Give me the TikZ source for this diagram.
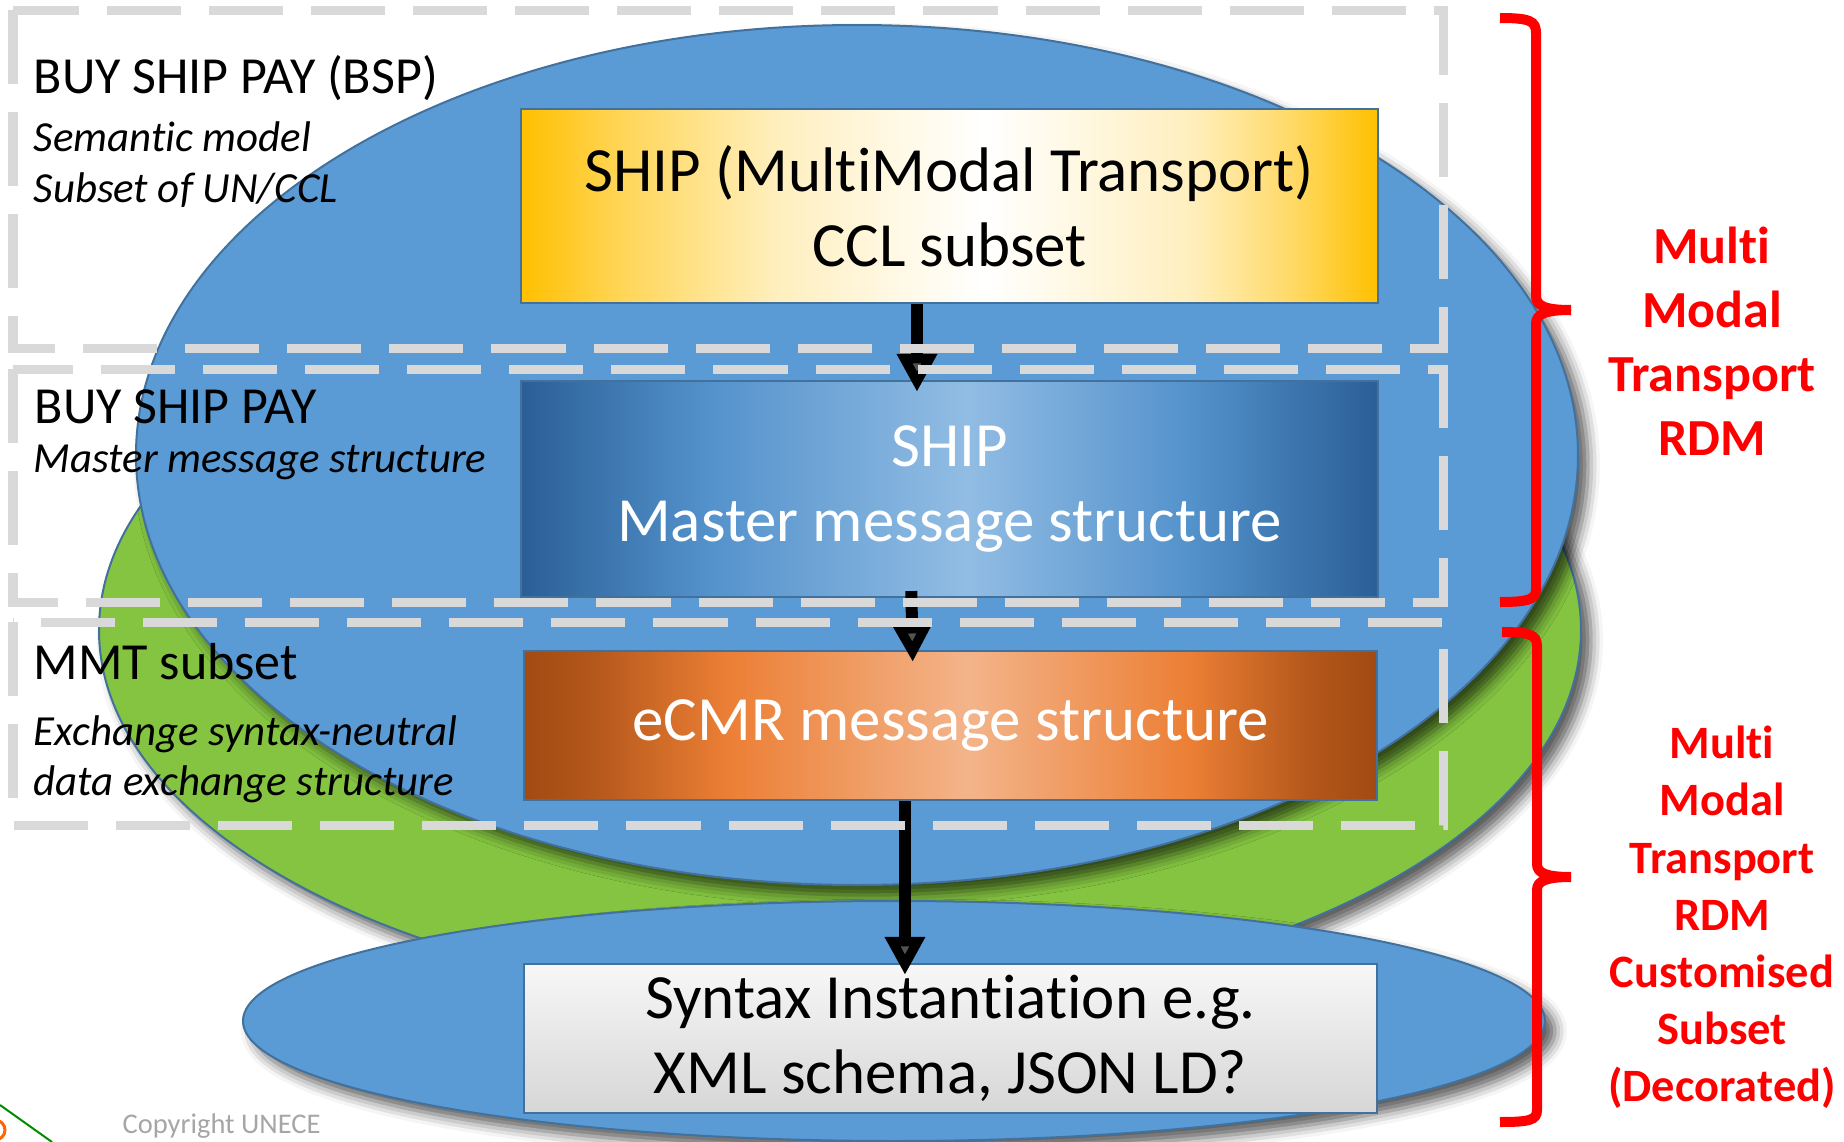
\documentclass[tikz,border=0pt]{standalone}
\usepackage{fontspec}
\setmainfont{Carlito}[Ligatures=NoCommon]
\usetikzlibrary{arrows.meta,shadows.blur}

\definecolor{ovalblue}{HTML}{5B9BD5}
\definecolor{ovalline}{HTML}{41719C}
\definecolor{ovalgreen}{HTML}{84C441}
\definecolor{dashgray}{HTML}{D9D9D9}
\definecolor{gold}{HTML}{FFC000}
\definecolor{deepblue}{HTML}{2A5F96}
\definecolor{paleblue}{HTML}{A9CBEA}
\definecolor{rust}{HTML}{A14A12}
\definecolor{tangerine}{HTML}{EC7F35}
\definecolor{peach}{HTML}{F3B48A}

% fills of the three coloured boxes (25bp = left edge, 75bp = right edge)
\pgfdeclarehorizontalshading{goldfade}{100bp}{color(0bp)=(gold); color(25bp)=(gold); color(31bp)=(gold!65!white); color(40bp)=(gold!25!white); color(52bp)=(white); color(64bp)=(gold!25!white); color(70bp)=(gold!60!white); color(75bp)=(gold); color(100bp)=(gold)}
\pgfdeclarehorizontalshading{bluefade}{100bp}{color(0bp)=(deepblue); color(25bp)=(deepblue); color(36bp)=(ovalblue!85!deepblue); color(51bp)=(paleblue!70!ovalblue); color(64bp)=(ovalblue!85!deepblue); color(75bp)=(deepblue); color(100bp)=(deepblue)}
\pgfdeclarehorizontalshading{rustfade}{100bp}{color(0bp)=(rust); color(25bp)=(rust); color(29bp)=(rust!75!tangerine); color(37bp)=(tangerine); color(51bp)=(peach); color(64bp)=(tangerine); color(71bp)=(rust!75!tangerine); color(75bp)=(rust); color(100bp)=(rust)}

\begin{document}
\begin{tikzpicture}[x=0.01cm,y=-0.01cm]
\tikzstyle{every node} = [inner sep=0pt]
\tikzstyle{oval} = [fill=ovalblue, draw=ovalline, line width=0.02cm, blur shadow={shadow xshift=0.1cm, shadow yshift=-0.1cm, shadow blur radius=0.12cm, shadow opacity=65}]
\tikzstyle{block} = [rectangle, draw=ovalline, line width=0.02cm, align=center, font=\fontsize{17.9}{21.3}\selectfont]
\tikzstyle{flow} = [line width=0.12cm, -{Triangle[width=0.38cm,length=0.38cm]}, shorten >=-0.12cm]
\tikzstyle{layerbox} = [draw=dashgray, line width=0.09cm, dash pattern=on 0.74cm off 0.28cm]
\tikzstyle{layerhead} = [anchor=base west, font=\fontsize{14.8}{18}\selectfont]
\tikzstyle{layernote} = [anchor=base west, font=\fontsize{12.2}{15}\selectfont\itshape]
\tikzstyle{redbrace} = [red, line width=0.1cm]
\tikzstyle{rdm} = [anchor=base, text=red, font=\fontsize{14.8}{18}\selectfont\bfseries]
\tikzstyle{rdmsub} = [anchor=base, text=red, font=\fontsize{13.2}{16}\selectfont\bfseries]

\useasboundingbox (0,0) rectangle (1844,1142);

% ovals
\filldraw[oval, fill=ovalgreen] (840,630) ellipse [x radius=741, y radius=374];
\filldraw[oval] (857,455) ellipse [x radius=721, y radius=430];
\filldraw[oval] (894,1021) ellipse [x radius=651, y radius=120];

% boxes
\node[block, minimum width=8.56cm, minimum height=1.94cm, shade, shading=goldfade] (ship) at (949.5,206) {SHIP (MultiModal Transport)\\CCL subset};
\node[block, minimum width=8.56cm, minimum height=2.16cm, shade, shading=bluefade, text=white] (master) at (949.5,489) {SHIP\\Master message structure};
\node[block, minimum width=8.53cm, minimum height=1.49cm, shade, shading=rustfade, text=white] (ecmr) at (950.5,725.5) {eCMR message structure};
\node[block, minimum width=8.53cm, minimum height=1.49cm, top color=white!97!black, bottom color=black!16] (syntax) at (950.5,1038.5) {Syntax Instantiation e.g.\\XML schema, JSON LD?};

% arrows
\draw[flow] ([xshift=-0.325cm]ship.south) -- ([xshift=-0.325cm]master.north);
\draw[flow, shorten <=-0.07cm] ([xshift=-0.38cm]master.south) -- ([xshift=-0.38cm]ecmr.north);
\draw[flow] ([xshift=-0.455cm]ecmr.south) -- ([xshift=-0.455cm]syntax.north);

% dashed layers
\draw[layerbox] (13,10) rectangle (1443,348);
\draw[layerbox] (13,369) rectangle (1443,602);
\draw[layerbox] (13,622) rectangle (1443,825);

\node[layerhead] (bsp) at (33,93) {BUY SHIP PAY (BSP)};
\node[layernote] (semantic) at (33,151) {Semantic model};
\node[layernote] (uncl) at (33,202) {Subset of UN/CCL};
\node[layerhead] (bspmaster) at (34,423) {BUY SHIP PAY};
\node[layernote] (mms) at (33,472) {Master message structure};
\node[layerhead] (mmt) at (33,679) {MMT subset};
\node[layernote] (neutral) at (33,745) {Exchange syntax-neutral};
\node[layernote] (dataex) at (33,795) {data exchange structure};

% braces
\draw[redbrace] (1500,18) .. controls (1530,18) and (1536,21) .. (1536,33) -- (1536,296) .. controls (1536,306) and (1545,310) .. (1571,310);
\draw[redbrace] (1571,310) .. controls (1545,310) and (1536,314) .. (1536,324) -- (1536,589) .. controls (1536,599) and (1530,602) .. (1500,602);
\draw[redbrace] (1502,632) .. controls (1530,632) and (1537,635) .. (1537,646) -- (1537,864) .. controls (1537,873) and (1546,877) .. (1571,877);
\draw[redbrace] (1571,877) .. controls (1546,877) and (1537,881) .. (1537,890) -- (1537,1110) .. controls (1537,1120) and (1530,1122) .. (1500,1122);

\node[rdm] (multi) at (1712,263) {Multi};
\node[rdm] (modal) at (1712,327) {Modal};
\node[rdm] (transport) at (1712,391) {Transport};
\node[rdm] (rdm) at (1712,455) {RDM};

\node[rdmsub] (submulti) at (1722,758) {Multi};
\node[rdmsub] (submodal) at (1722,815) {Modal};
\node[rdmsub] (subtransport) at (1722,873) {Transport};
\node[rdmsub] (subrdm) at (1722,930) {RDM};
\node[rdmsub] (custom) at (1722,987) {Customised};
\node[rdmsub] (subset) at (1722,1044) {Subset};
\node[rdmsub] (decorated) at (1722,1101) {(Decorated)};

% slide footer
\draw[green!55!black, line width=0.02cm] (0,1105) -- (52,1142);
\draw[orange!80!red, line width=0.03cm] (-5,1130) circle (10);
\node[anchor=base west, text=black!35, font=\fontsize{8.1}{10}\selectfont] (copyright) at (122,1133) {Copyright UNECE};
\end{tikzpicture}
\end{document}
